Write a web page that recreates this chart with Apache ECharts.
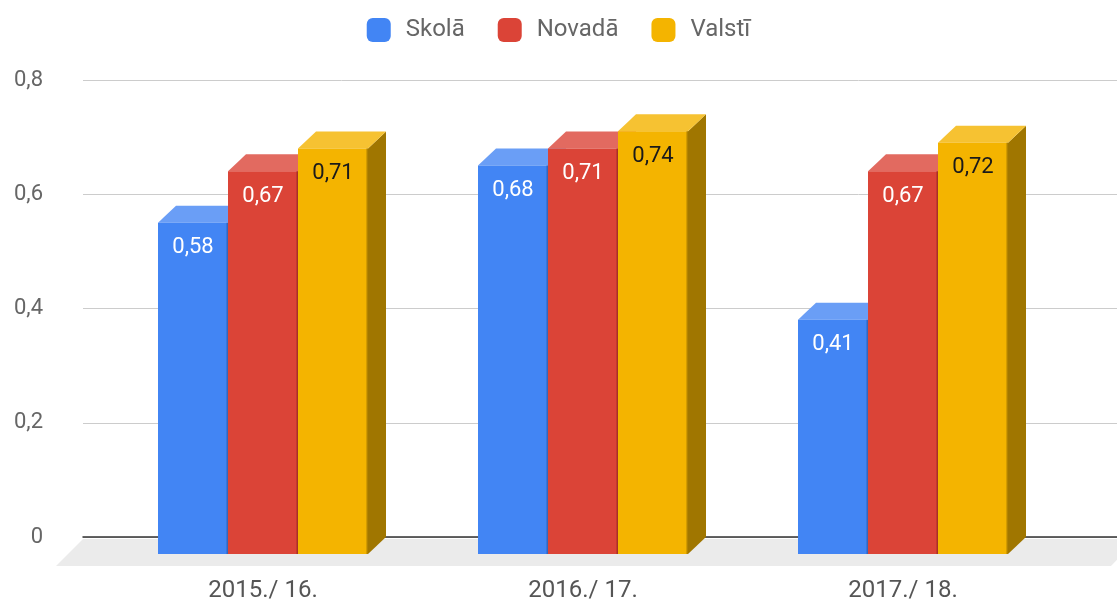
<!DOCTYPE html>
<html>
<head>
<meta charset="utf-8">
<script src="https://cdn.jsdelivr.net/npm/echarts@6/dist/echarts.min.js"></script>
<style>
  html, body { margin: 0; padding: 0; background: #fff; }
  #chart { width: 1117px; height: 604px; }
</style>
</head>
<body>
<div id="chart"></div>
<script>
// data
const categories = ['2015./ 16.', '2016./ 17.', '2017./ 18.'];
const skola = [0.58, 0.68, 0.41];
const novada = [0.67, 0.71, 0.67];
const valsti = [0.71, 0.74, 0.72];
const seriesNames = ['Skolā', 'Novadā', 'Valstī'];
const yTicks = [0, 0.2, 0.4, 0.6, 0.8];

// 3d look
const DX = 18, DY = 17;
const BAR_FRAC = 70 / 320;
const palette = [
    { front: '#4285f4', top: '#6a9ef6', side: '#2d5fb3', text: '#ffffff' },
    { front: '#db4437', top: '#e26a60', side: '#9b2c23', text: '#ffffff' },
    { front: '#f4b400', top: '#f6c232', side: '#a07600', text: '#1a1a1a' }
];

const fmt = (v) => String(v).replace('.', ',');

const chart = echarts.init(document.getElementById('chart'));

const makeBar = (sIdx) => (params, api) => {
    const c = palette[sIdx];
    const v = api.value(1);
    const base = api.coord([api.value(0), 0]);
    const top = api.coord([api.value(0), v]);
    const band = api.size([1, 0])[0];
    const w = band * BAR_FRAC;
    const x0 = base[0] + (sIdx - 1) * w - w / 2;
    const ty = top[1] + DY;
    const by = base[1] + DY;
    return {
        type: 'group',
        children: [
            {
                type: 'polygon',
                shape: { points: [[x0 + w, ty], [x0 + w + DX, ty - DY], [x0 + w + DX, by - DY], [x0 + w, by]] },
                style: { fill: c.side }
            },
            {
                type: 'polygon',
                shape: { points: [[x0, ty], [x0 + w, ty], [x0 + w + DX, ty - DY], [x0 + DX, ty - DY]] },
                style: { fill: c.top }
            },
            {
                type: 'rect',
                shape: { x: x0, y: ty, width: w, height: by - ty },
                style: { fill: c.front }
            },
            {
                type: 'rect',
                shape: { x: x0 + w - 1.5, y: ty, width: 1.5, height: by - ty },
                style: { fill: c.side, opacity: 0.8 }
            },
            {
                type: 'text',
                style: {
                    text: fmt(v),
                    x: x0 + w / 2,
                    y: ty + 25,
                    align: 'center',
                    verticalAlign: 'middle',
                    fill: c.text,
                    font: '22px Roboto'
                }
            }
        ]
    };
};

const floorItem = (params) => {
    const cs = params.coordSys;
    const y0 = cs.y + cs.height + 2;
    const x0 = cs.x, x1 = cs.x + cs.width;
    return {
        type: 'polygon',
        shape: { points: [[x0, y0], [x1 + 20, y0], [x1 - 6, y0 + 27], [x0 - 27, y0 + 27]] },
        style: { fill: '#ebebeb' }
    };
};

const seriesData = [skola, novada, valsti];

chart.setOption({
    animation: false,
    textStyle: { fontFamily: 'Roboto' },
    legend: {
        top: 13,
        left: 'center',
        icon: 'roundRect',
        itemWidth: 24,
        itemHeight: 24,
        itemGap: 33,
        textStyle: { fontSize: 24, color: '#666', padding: [0, 0, 0, 10] },
        data: seriesNames.map((n, i) => ({ name: n, itemStyle: { color: palette[i].front } }))
    },
    grid: [
        { left: 83, right: 0, top: 80, bottom: 67 },
        { left: 103, right: 54, top: 80, bottom: 67 }
    ],
    xAxis: [
        {
            gridIndex: 0,
            type: 'category',
            data: categories,
            axisLine: { lineStyle: { color: '#333', width: 1.5 } },
            axisTick: { show: false },
            axisLabel: { show: false },
            z: 1
        },
        {
            gridIndex: 1,
            type: 'category',
            data: categories,
            axisLine: { show: false },
            axisTick: { show: false },
            axisLabel: { fontSize: 24, color: '#555', margin: 42 }
        }
    ],
    yAxis: [
        {
            gridIndex: 0,
            type: 'value',
            min: yTicks[0],
            max: yTicks[yTicks.length - 1],
            interval: 0.2,
            axisLine: { show: false },
            axisTick: { show: false },
            axisLabel: { fontSize: 22, color: '#666', margin: 40, formatter: fmt },
            splitLine: { lineStyle: { color: '#cccccc' } }
        },
        {
            gridIndex: 1,
            type: 'value',
            min: yTicks[0],
            max: yTicks[yTicks.length - 1],
            show: false,
            splitLine: { show: false }
        }
    ],
    series: [
        {
            type: 'custom',
            name: 'floor',
            xAxisIndex: 0,
            yAxisIndex: 0,
            data: [[0, 0]],
            renderItem: floorItem,
            silent: true,
            z: 0
        },
        ...seriesData.map((arr, s) => ({
            type: 'custom',
            name: seriesNames[s],
            xAxisIndex: 1,
            yAxisIndex: 1,
            itemStyle: { color: palette[s].front },
            data: arr.map((v, i) => [i, v]),
            renderItem: makeBar(s),
            z: 3
        }))
    ]
});
</script>
</body>
</html>
